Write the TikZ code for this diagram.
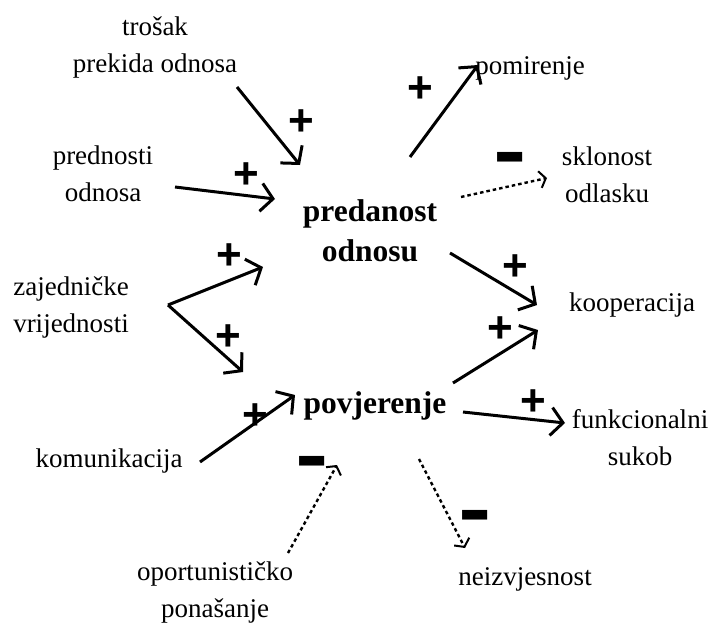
\documentclass[tikz,border=0pt]{standalone}
\usepackage{fontspec}
\setmainfont{Liberation Serif}
\newfontfamily\signfont{Liberation Sans}
\usetikzlibrary{arrows.meta}

\tikzset{
  concept/.style={align=center, inner sep=0pt, anchor=base, font=\fontsize{27}{37}\selectfont},
  core/.style={align=center, inner sep=0pt, anchor=base, font=\bfseries\fontsize{31.5}{40}\selectfont},
  plusarrow/.style={line width=3pt, -{Straight Barb[length=12pt,width=28pt,line width=3pt]}},
  minusarrow/.style={line width=2.4pt, dash pattern=on 3.5pt off 3pt,
    -{Straight Barb[length=6pt,width=17pt,line width=2pt]}},
  plussign/.style={inner sep=0pt, font=\signfont\bfseries\fontsize{44}{44}\selectfont},
  minussign/.style={inner sep=0pt, font=\signfont\bfseries\fontsize{40}{40}\selectfont}
}

\begin{document}
\begin{tikzpicture}[x=1pt, y=-1pt]
\useasboundingbox (0,0) rectangle (712,624);

% glavni pojmovi
\node[core] (predanost) at (370,261) {predanost\\odnosu};
\node[core] (povjerenje) at (375,413) {povjerenje};

% ostali pojmovi
\node[concept] (trosak) at (155,72) {trošak\\prekida odnosa};
\node[concept] (prednosti) at (103,201) {prednosti\\odnosa};
\node[concept] (vrijednosti) at (71,332) {zajedničke\\vrijednosti};
\node[concept] (komunikacija) at (109,467) {komunikacija};
\node[concept] (oportunizam) at (215,617) {oportunističko\\ponašanje};
\node[concept] (pomirenje) at (530,74) {pomirenje};
\node[concept] (odlazak) at (607,202) {sklonost\\odlasku};
\node[concept] (kooperacija) at (632,311) {kooperacija};
\node[concept] (sukob) at (640,465) {funkcionalni\\sukob};
\node[concept] (neizvjesnost) at (525,585) {neizvjesnost};

% krajevi strelica
\coordinate (t1) at (237,87);  \coordinate (t2) at (300,165);
\coordinate (p1) at (175,187); \coordinate (p2) at (275,199);
\coordinate (z0) at (168,305); \coordinate (z1) at (263,267); \coordinate (z2) at (243,372);
\coordinate (k1) at (200,462); \coordinate (k2) at (295,395);
\coordinate (o1) at (288,553); \coordinate (o2) at (337,465);
\coordinate (m1) at (410,157); \coordinate (m2) at (478,65);
\coordinate (s1) at (461,197); \coordinate (s2) at (547,178);
\coordinate (c1) at (450,253); \coordinate (c2) at (537,305);
\coordinate (c3) at (453,383); \coordinate (c4) at (538,330);
\coordinate (f1) at (463,412); \coordinate (f2) at (565,423);
\coordinate (n1) at (419,459); \coordinate (n2) at (465,548);

% pozitivne veze
\draw[plusarrow] (t1) -- (t2);% trosak -> predanost
\draw[plusarrow] (p1) -- (p2);% prednosti -> predanost
\draw[plusarrow] (z0) -- (z1);% vrijednosti -> predanost
\draw[plusarrow] (z0) -- (z2);% vrijednosti -> povjerenje
\draw[plusarrow] (k1) -- (k2);% komunikacija -> povjerenje
\draw[plusarrow] (m1) -- (m2);% predanost -> pomirenje
\draw[plusarrow] (c1) -- (c2);% predanost -> kooperacija
\draw[plusarrow] (c3) -- (c4);% povjerenje -> kooperacija
\draw[plusarrow] (f1) -- (f2);% povjerenje -> sukob

% negativne veze
\draw[minusarrow] (s1) -- (s2);% predanost -> odlazak
\draw[minusarrow] (o1) -- (o2);% oportunizam -> povjerenje
\draw[minusarrow] (n1) -- (n2);% povjerenje -> neizvjesnost

% predznaci
\node[plussign] (plus1) at (301,123) {+};
\node[plussign] (plus2) at (246,176) {+};
\node[plussign] (plus3) at (229,257) {+};
\node[plussign] (plus4) at (228,338) {+};
\node[plussign] (plus5) at (255,417) {+};
\node[plussign] (plus6) at (420,90) {+};
\node[plussign] (plus7) at (515,268) {+};
\node[plussign] (plus8) at (500,330) {+};
\node[plussign] (plus9) at (533,403) {+};
\node[minussign] (minus1) at (510,169) {\scalebox{1.25}[2.2]{−}};
\node[minussign] (minus2) at (312,473) {\scalebox{1.25}[2.2]{−}};
\node[minussign] (minus3) at (475,527) {\scalebox{1.25}[2.2]{−}};
\end{tikzpicture}
\end{document}
